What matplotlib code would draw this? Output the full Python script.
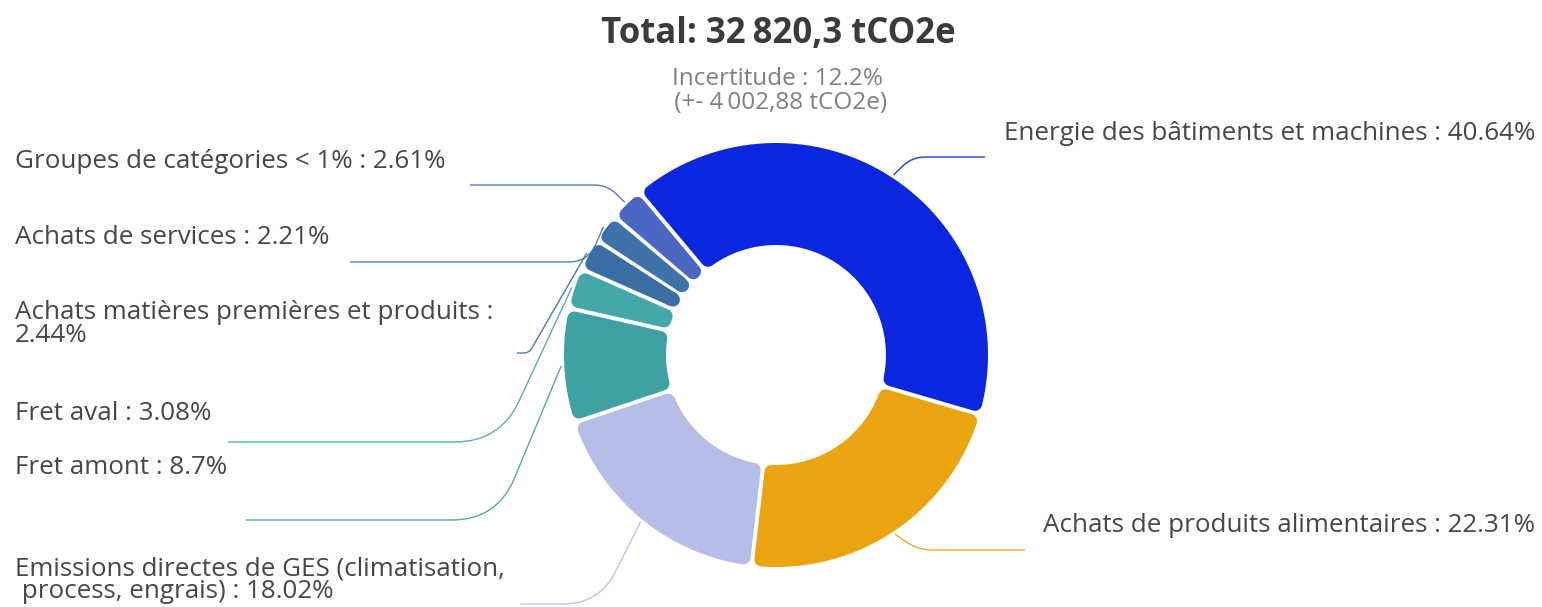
import numpy as np
import matplotlib
matplotlib.use("Agg")
import matplotlib.pyplot as plt
from matplotlib.path import Path
from matplotlib.patches import PathPatch

# Données (parts en %), dans le sens horaire à partir du haut
categories = [
    "Energie des bâtiments et machines",
    "Achats de produits alimentaires",
    "Emissions directes de GES (climatisation,\n process, engrais)",
    "Fret amont",
    "Fret aval",
    "Achats matières premières et produits",
    "Achats de services",
    "Groupes de catégories < 1%",
]
shares = [40.64, 22.31, 18.02, 8.7, 3.08, 2.44, 2.21, 2.61]
colors = ["#0a26de", "#e9a40f", "#b5bde9", "#3fa1a3", "#45a8a8",
          "#3a6ca6", "#3f72ab", "#4c66c4"]
label_sep = [" : ", " : ", " : ", " : ", " : ", " :\n", " : ", " : "]

title = "Total: 32\u2009820,3 tCO2e"
subtitle = "Incertitude : 12.2%\n (+- 4\u2009002,88 tCO2e)"

W, H = 1542, 607
DPI = 100

# mise en page (pixels image, y vers le bas)
center = (776, 355)
R_OUT = 212
R_IN = 110
CORNER = 7
GAP = 4
# (x texte, y texte, y ligne, x coude, x fin de ligne)
label_layout = [
    (1535, 134, 157, 912, 985),
    (1535, 526, 550, 918, 1025),
    (15, 580, 604, 599, 520),
    (15, 467, 520, 497, 245),
    (15, 413, 442, 500, 228),
    (15, 324, 353, 529, 517),
    (15, 237, 262, 588, 350),
    (15, 161, 185, 607, 470),
]

plt.rcParams['font.family'] = ['Open Sans', 'DejaVu Sans']


def yy(y):
    return H - y


def rounded_wedge(cx, cy, t1, t2, color, ax):
    ro = R_OUT - CORNER
    ri = R_IN + CORNER
    d = CORNER + GAP / 2
    do = np.degrees(np.arcsin(d / ro))
    di = np.degrees(np.arcsin(d / ri))
    a1, a2 = t1 + do, t2 - do
    b1, b2 = t1 + di, t2 - di
    if b2 < b1:
        b1 = b2 = (t1 + t2) / 2
    to = np.radians(np.linspace(a1, a2, 80))
    ti = np.radians(np.linspace(b2, b1, 40))
    xs = np.concatenate([cx + ro * np.cos(to), cx + ri * np.cos(ti)])
    ys = np.concatenate([cy + ro * np.sin(to), cy + ri * np.sin(ti)])
    verts = np.column_stack([xs, ys])
    verts = np.vstack([verts, verts[:1]])
    codes = [Path.MOVETO] + [Path.LINETO] * (len(verts) - 2) + [Path.CLOSEPOLY]
    patch = PathPatch(Path(verts, codes), facecolor=color, edgecolor=color,
                      linewidth=2 * CORNER * 72 / DPI, joinstyle='round')
    ax.add_patch(patch)


def leader(p0, corner, end, color, ax):
    p0 = np.array(p0, float)
    c = np.array(corner, float)
    e = np.array(end, float)
    v1 = p0 - c
    v2 = e - c
    l1 = np.hypot(*v1)
    l2 = np.hypot(*v2)
    L = min(0.5 * l1, 0.45 * l2, 45)
    a = c + L * v1 / l1
    b = c + L * v2 / l2 if l2 > 0 else c
    verts = [p0, a, c, b, e]
    codes = [Path.MOVETO, Path.LINETO, Path.CURVE3, Path.CURVE3, Path.LINETO]
    ax.add_patch(PathPatch(Path(verts, codes), facecolor='none',
                           edgecolor=color, linewidth=1.0, alpha=0.9))


fig = plt.figure(figsize=(W / DPI, H / DPI), dpi=DPI)
ax = fig.add_axes([0, 0, 1, 1])

cx, cy = center[0], yy(center[1])
wedges, _ = ax.pie(shares, startangle=130, counterclock=False,
                   center=(cx, cy), radius=R_OUT, colors=colors,
                   frame=True)
ax.set_xlim(0, W)
ax.set_ylim(0, H)
ax.set_aspect('equal')
ax.axis('off')

for w, col, name, v, sep, lay in zip(wedges, colors, categories, shares,
                                     label_sep, label_layout):
    w.set_visible(False)
    rounded_wedge(cx, cy, w.theta1, w.theta2, col, ax)
    mid = np.radians((w.theta1 + w.theta2) / 2)
    p0 = (cx + (R_OUT + 3) * np.cos(mid), cy + (R_OUT + 3) * np.sin(mid))
    tx, ty, ly, kx, ex = lay
    leader(p0, (kx, yy(ly)), (ex, yy(ly)), col, ax)
    ax.text(tx, yy(ty), f"{name}{sep}{v:g}%", ha='left' if tx < cx else 'right',
            va='center', fontsize=18.7, color='#474747', linespacing=0.85)

ax.text(778, yy(34), title, ha='center', va='center', fontsize=25,
        fontweight='bold', color='#3b3b3b')
ax.text(778, yy(91), subtitle, ha='center', va='center', fontsize=17.5,
        color='#808080', linespacing=0.95)

fig.savefig("out.png", dpi=DPI)
